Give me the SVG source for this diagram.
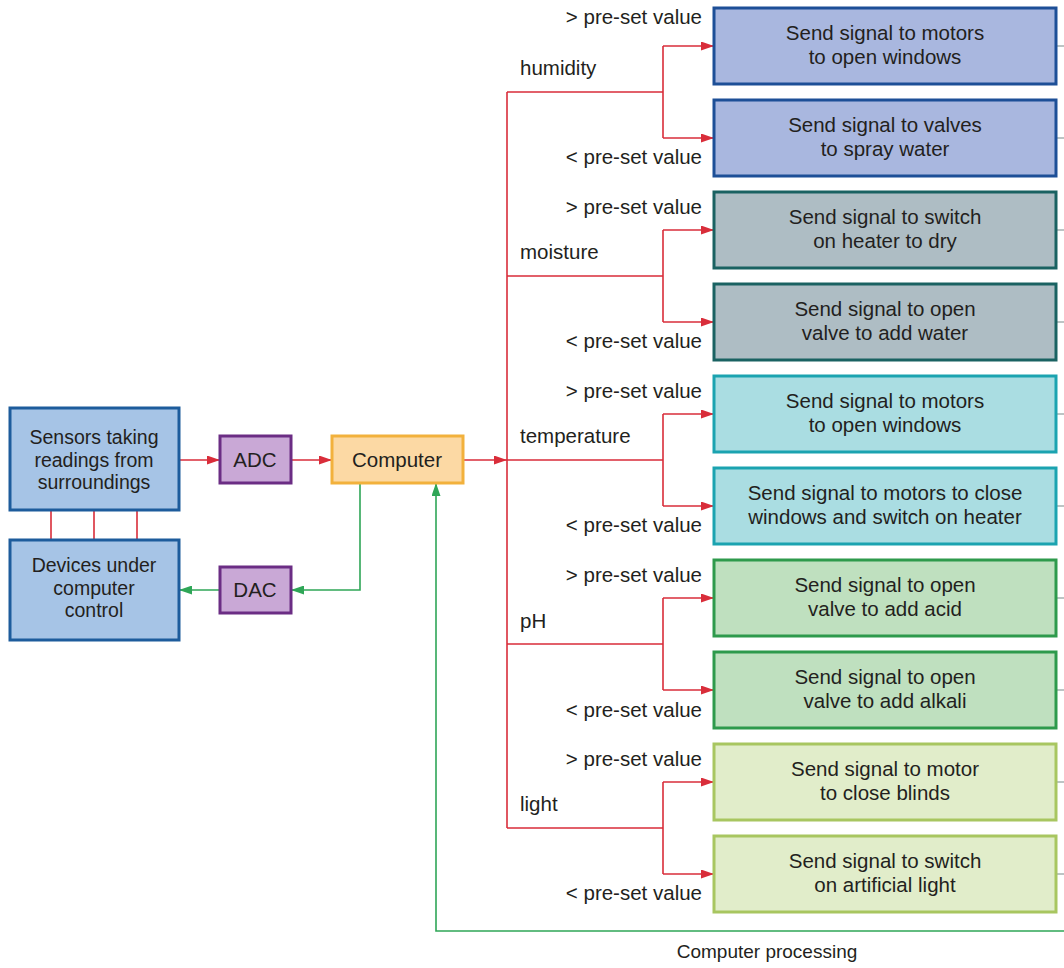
<svg xmlns="http://www.w3.org/2000/svg" width="1064" height="968" viewBox="0 0 1064 968">
<defs>
<marker id="ar" viewBox="0 0 13 9" refX="13" refY="4.5" markerWidth="13" markerHeight="9" markerUnits="userSpaceOnUse" orient="auto"><path d="M0,0 L13,4.5 L0,9 z" fill="#d92d3a"/></marker>
<marker id="ag" viewBox="0 0 13 9" refX="13" refY="4.5" markerWidth="13" markerHeight="9" markerUnits="userSpaceOnUse" orient="auto"><path d="M0,0 L13,4.5 L0,9 z" fill="#2fa657"/></marker>
<style>
text{font-family:"Liberation Sans",Arial,sans-serif;font-size:20.5px;fill:#231f20}
.c{text-anchor:middle}
.r{text-anchor:end}
.cp{font-size:19px}
.sm{font-size:19.5px}
.red{stroke:#d92d3a;stroke-width:1.6;fill:none}
.grn{stroke:#2fa657;stroke-width:1.6;fill:none}
.stub{stroke:#7a8a8a;stroke-width:1.2}
.blue{fill:#a6c4e6;stroke:#1d5c9c;stroke-width:3}
.pur{fill:#c9a8d6;stroke:#6b2d84;stroke-width:3}
.org{fill:#fcd9a4;stroke:#f2b13c;stroke-width:3}
.hum{fill:#a9b7df;stroke:#1d4f97;stroke-width:3}
.moi{fill:#aebdc4;stroke:#1a6262;stroke-width:3}
.tem{fill:#aadde2;stroke:#1ba3b0;stroke-width:3}
.ph{fill:#bfe0bf;stroke:#2e9a4c;stroke-width:3}
.lig{fill:#e1edca;stroke:#a8c660;stroke-width:3}
</style>
</defs>
<rect width="1064" height="968" fill="#ffffff"/>

<g id="connectors">
<path class="red" d="M179,460 H220" marker-end="url(#ar)"/>
<path class="red" d="M291,460 H332" marker-end="url(#ar)"/>
<path class="red" d="M463,460 H507" marker-end="url(#ar)"/>
<path class="red" d="M51,510 V540 M94,510 V540 M137,510 V540"/>
<path class="grn" d="M360,483 V590 H291" marker-end="url(#ag)"/>
<path class="grn" d="M220,590 H179" marker-end="url(#ag)"/>
<path class="grn" d="M1064,931 H436 V483" marker-end="url(#ag)"/>
<path class="red" d="M507,92 V828"/>
<path class="red" d="M507,92 H663 M663,46 V138"/>
<path class="red" d="M663,46 H714" marker-end="url(#ar)"/>
<path class="red" d="M663,138 H714" marker-end="url(#ar)"/>
<path class="red" d="M507,276 H663 M663,230 V322"/>
<path class="red" d="M663,230 H714" marker-end="url(#ar)"/>
<path class="red" d="M663,322 H714" marker-end="url(#ar)"/>
<path class="red" d="M507,460 H663 M663,414 V506"/>
<path class="red" d="M663,414 H714" marker-end="url(#ar)"/>
<path class="red" d="M663,506 H714" marker-end="url(#ar)"/>
<path class="red" d="M507,644 H663 M663,598 V690"/>
<path class="red" d="M663,598 H714" marker-end="url(#ar)"/>
<path class="red" d="M663,690 H714" marker-end="url(#ar)"/>
<path class="red" d="M507,828 H663 M663,782 V874"/>
<path class="red" d="M663,782 H714" marker-end="url(#ar)"/>
<path class="red" d="M663,874 H714" marker-end="url(#ar)"/>
<path class="stub" d="M1056,46 H1064 M1056,138 H1064 M1056,230 H1064 M1056,322 H1064 M1056,414 H1064 M1056,506 H1064 M1056,598 H1064 M1056,690 H1064 M1056,782 H1064 M1056,874 H1064"/>
</g>

<g id="labels">
<text class="r" x="702" y="24">&gt; pre-set value</text>
<text x="520" y="75">humidity</text>
<text class="r" x="702" y="164">&lt; pre-set value</text>
<text class="r" x="702" y="214">&gt; pre-set value</text>
<text x="520" y="259">moisture</text>
<text class="r" x="702" y="348">&lt; pre-set value</text>
<text class="r" x="702" y="398">&gt; pre-set value</text>
<text x="520" y="443">temperature</text>
<text class="r" x="702" y="532">&lt; pre-set value</text>
<text class="r" x="702" y="582">&gt; pre-set value</text>
<text x="520" y="628">pH</text>
<text class="r" x="702" y="717">&lt; pre-set value</text>
<text class="r" x="702" y="766">&gt; pre-set value</text>
<text x="520" y="811">light</text>
<text class="r" x="702" y="900">&lt; pre-set value</text>
<text class="c cp" x="767" y="958">Computer processing</text>
</g>

<g id="sensors"><rect class="blue" x="10" y="408" width="169" height="102"/>
<text class="c sm" x="94" y="444">Sensors taking</text><text class="c sm" x="94" y="466.5">readings from</text><text class="c sm" x="94" y="489">surroundings</text></g>
<g id="devices"><rect class="blue" x="10" y="540" width="169" height="100"/>
<text class="c sm" x="94" y="572">Devices under</text><text class="c sm" x="94" y="594.5">computer</text><text class="c sm" x="94" y="617">control</text></g>
<g id="adc"><rect class="pur" x="220" y="436" width="71" height="47"/><text class="c" x="255" y="467">ADC</text></g>
<g id="dac"><rect class="pur" x="220" y="567" width="71" height="46"/><text class="c" x="255" y="597">DAC</text></g>
<g id="computer"><rect class="org" x="332" y="436" width="131" height="47"/><text class="c" x="397" y="467">Computer</text></g>

<g id="b1"><rect class="hum" x="714" y="8" width="342" height="76"/><text class="c" x="885" y="40">Send signal to motors</text><text class="c" x="885" y="64">to open windows</text></g>
<g id="b2"><rect class="hum" x="714" y="100" width="342" height="76"/><text class="c" x="885" y="132">Send signal to valves</text><text class="c" x="885" y="156">to spray water</text></g>
<g id="b3"><rect class="moi" x="714" y="192" width="342" height="76"/><text class="c" x="885" y="224">Send signal to switch</text><text class="c" x="885" y="248">on heater to dry</text></g>
<g id="b4"><rect class="moi" x="714" y="284" width="342" height="76"/><text class="c" x="885" y="316">Send signal to open</text><text class="c" x="885" y="340">valve to add water</text></g>
<g id="b5"><rect class="tem" x="714" y="376" width="342" height="76"/><text class="c" x="885" y="408">Send signal to motors</text><text class="c" x="885" y="432">to open windows</text></g>
<g id="b6"><rect class="tem" x="714" y="468" width="342" height="76"/><text class="c" x="885" y="500">Send signal to motors to close</text><text class="c" x="885" y="524">windows and switch on heater</text></g>
<g id="b7"><rect class="ph" x="714" y="560" width="342" height="76"/><text class="c" x="885" y="592">Send signal to open</text><text class="c" x="885" y="616">valve to add acid</text></g>
<g id="b8"><rect class="ph" x="714" y="652" width="342" height="76"/><text class="c" x="885" y="684">Send signal to open</text><text class="c" x="885" y="708">valve to add alkali</text></g>
<g id="b9"><rect class="lig" x="714" y="744" width="342" height="76"/><text class="c" x="885" y="776">Send signal to motor</text><text class="c" x="885" y="800">to close blinds</text></g>
<g id="b10"><rect class="lig" x="714" y="836" width="342" height="76"/><text class="c" x="885" y="868">Send signal to switch</text><text class="c" x="885" y="892">on artificial light</text></g>
</svg>
